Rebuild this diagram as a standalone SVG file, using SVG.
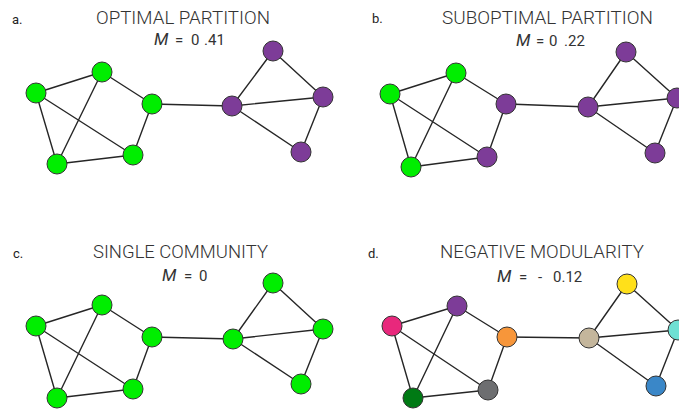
<svg xmlns="http://www.w3.org/2000/svg" width="679" height="411" viewBox="0 0 679 411">
<style>
.e{stroke:#262626;stroke-width:1.4;fill:none}
.n{stroke:#333;stroke-width:1}
.g{fill:#00ee00}
.p{fill:#7d3c98}
.t{font-family:Roboto,"Liberation Sans",sans-serif;font-weight:300;font-size:18px;fill:#333}
.m{font-family:Roboto,"Liberation Sans",sans-serif;font-weight:400;font-size:15px;fill:#333}
.i{font-style:italic;font-size:17px}
.l{font-family:Roboto,"Liberation Sans",sans-serif;font-weight:400;font-size:13px;fill:#222}
</style>
<rect width="679" height="411" fill="#fff"/>
<g id="labels">
<text class="l" x="12" y="24">a.</text>
<text class="t" x="96" y="24" textLength="174" lengthAdjust="spacingAndGlyphs">OPTIMAL PARTITION</text>
<text class="m" y="45"><tspan class="i" x="154">M</tspan><tspan x="175">=</tspan><tspan x="191">0</tspan><tspan x="204">.41</tspan></text>
<text class="l" x="372" y="23">b.</text>
<text class="t" x="442" y="24" textLength="211" lengthAdjust="spacingAndGlyphs">SUBOPTIMAL PARTITION</text>
<text class="m" y="46"><tspan class="i" x="516">M</tspan><tspan x="536">=</tspan><tspan x="549">0</tspan><tspan x="564">.22</tspan></text>
<text class="l" x="13" y="258">c.</text>
<text class="t" x="93" y="258" textLength="175" lengthAdjust="spacingAndGlyphs">SINGLE COMMUNITY</text>
<text class="m" y="281"><tspan class="i" x="162">M</tspan><tspan x="184">=</tspan><tspan x="199">0</tspan></text>
<text class="l" x="368" y="258">d.</text>
<text class="t" x="440" y="258" textLength="204" lengthAdjust="spacingAndGlyphs">NEGATIVE MODULARITY</text>
<text class="m" y="282"><tspan class="i" x="497">M</tspan><tspan x="519">=</tspan><tspan x="538">-</tspan><tspan x="553">0.12</tspan></text>
</g>
<g id="connectors">
<path class="e" d="M36 93L102 72M36 93L57 164M36 93L133 155M102 72L57 164M102 72L152 104M152 104L133 155M57 164L133 155M152 104L232 106M232 106L273 51M232 106L323 97M232 106L301 152M273 51L323 97M323 97L301 152"/>
<path class="e" d="M390 94L456 73M390 94L411 167M390 94L487 157M456 73L411 167M456 73L506 104M506 104L487 157M411 167L487 157M506 104L588 107M588 107L626 52M588 107L677 98M588 107L655 153M626 52L677 98M677 98L655 153"/>
<path class="e" d="M36 326L102 305M36 326L57 398M36 326L133 389M102 305L57 398M102 305L152 337M152 337L133 389M57 398L133 389M152 337L233 339M233 339L273 283M233 339L323 329M233 339L301 384M273 283L323 329M323 329L301 384"/>
<path class="e" d="M392 326L457 306M392 326L413 398M392 326L488 390M457 306L413 398M457 306L507 337M507 337L488 390M413 398L488 390M507 337L589 338M589 338L627 284M589 338L678 330M589 338L656 386M627 284L678 330M678 330L656 386"/>
</g>
<g id="a-nodes">
<circle id="a1" class="n g" cx="36" cy="93" r="10"/>
<circle id="a2" class="n g" cx="102" cy="72" r="10"/>
<circle id="a3" class="n g" cx="152" cy="104" r="10"/>
<circle id="a4" class="n g" cx="57" cy="164" r="10"/>
<circle id="a5" class="n g" cx="133" cy="155" r="10"/>
<circle id="a6" class="n p" cx="232" cy="106" r="10"/>
<circle id="a7" class="n p" cx="273" cy="51" r="10"/>
<circle id="a8" class="n p" cx="323" cy="97" r="10"/>
<circle id="a9" class="n p" cx="301" cy="152" r="10"/>
</g>
<g id="b-nodes">
<circle id="b1" class="n g" cx="390" cy="94" r="10"/>
<circle id="b2" class="n g" cx="456" cy="73" r="10"/>
<circle id="b3" class="n p" cx="506" cy="104" r="10"/>
<circle id="b4" class="n g" cx="411" cy="167" r="10"/>
<circle id="b5" class="n p" cx="487" cy="157" r="10"/>
<circle id="b6" class="n p" cx="588" cy="107" r="10"/>
<circle id="b7" class="n p" cx="626" cy="52" r="10"/>
<circle id="b8" class="n p" cx="677" cy="98" r="10"/>
<circle id="b9" class="n p" cx="655" cy="153" r="10"/>
</g>
<g id="c-nodes">
<circle id="c1" class="n g" cx="36" cy="326" r="10"/>
<circle id="c2" class="n g" cx="102" cy="305" r="10"/>
<circle id="c3" class="n g" cx="152" cy="337" r="10"/>
<circle id="c4" class="n g" cx="57" cy="398" r="10"/>
<circle id="c5" class="n g" cx="133" cy="389" r="10"/>
<circle id="c6" class="n g" cx="233" cy="339" r="10"/>
<circle id="c7" class="n g" cx="273" cy="283" r="10"/>
<circle id="c8" class="n g" cx="323" cy="329" r="10"/>
<circle id="c9" class="n g" cx="301" cy="384" r="10"/>
</g>
<g id="d-nodes">
<circle id="d1" class="n" fill="#e8287c" cx="392" cy="326" r="10"/>
<circle id="d2" class="n" fill="#7d3c98" cx="457" cy="306" r="10"/>
<circle id="d3" class="n" fill="#f7963a" cx="507" cy="337" r="10"/>
<circle id="d4" class="n" fill="#007a14" cx="413" cy="398" r="10"/>
<circle id="d5" class="n" fill="#6d6e70" cx="488" cy="390" r="10"/>
<circle id="d6" class="n" fill="#c4b69c" cx="589" cy="338" r="10"/>
<circle id="d7" class="n" fill="#ffe01a" cx="627" cy="284" r="10"/>
<circle id="d8" class="n" fill="#6fe0d3" cx="678" cy="330" r="10"/>
<circle id="d9" class="n" fill="#3a87c8" cx="656" cy="386" r="10"/>
</g>
</svg>
